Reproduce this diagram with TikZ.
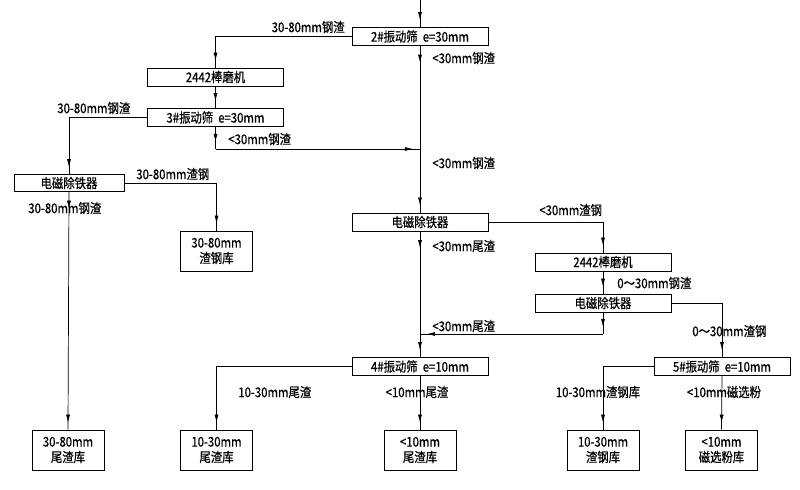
\documentclass[tikz,border=0pt]{standalone}
\usepackage{fontspec}
\setmainfont{Noto Sans CJK SC}[FakeStretch=0.85,FakeBold=0.6]
\usetikzlibrary{arrows.meta}
\usetikzlibrary{decorations.markings}

\begin{document}
\begin{tikzpicture}[x=0.025cm,y=-0.025cm,
  font=\fontsize{9.5}{11}\selectfont,
  >={Latex[length=2mm,width=1mm]},
  every path/.style={line width=.5pt},
  unit/.style={draw,inner sep=0pt,minimum width=3.4cm,minimum height=.45cm},
  sep/.style={draw,inner sep=0pt,minimum width=2.75cm,minimum height=.42cm},
  bin/.style={draw,inner sep=0pt,minimum width=1.8cm,minimum height=1cm,align=center},
  flow/.style={draw,postaction={decorate,decoration={markings,
    mark=at position -5pt with {\arrow{>}}}}},
  lead/.style={postaction={decorate,decoration={markings,
    mark=at position 12pt with {\arrow{>}}}}},
  lbl/.style={inner sep=0pt}]
  \useasboundingbox (0,0) rectangle (800,489);

  \node (s2) [unit] at (420,36.5) {2\#振动筛\ \ e=30mm};
  \node (rm1) [unit] at (215.5,77) {2442棒磨机};
  \node (s3) [unit] at (215.5,117.5) {3\#振动筛\ \ e=30mm};
  \node (me1) [sep] at (69,183) {电磁除铁器};
  \node (st1) [bin] at (216.5,251) {30-80mm\\渣钢库};
  \node (me2) [unit] at (420,222) {电磁除铁器};
  \node (rm2) [unit] at (603,262) {2442棒磨机};
  \node (me3) [unit] at (603,303) {电磁除铁器};
  \node (s4) [unit] at (420,366.5) {4\#振动筛\ \ e=10mm};
  \node (s5) [unit] at (722,366.5) {5\#振动筛\ \ e=10mm};
  \node (b1) [bin] at (68,450) {30-80mm\\尾渣库};
  \node (b2) [bin] at (216.5,450) {10-30mm\\尾渣库};
  \node (b3) [bin] at (420,450) {<10mm\\尾渣库};
  \node (b4) [bin] at (603,450) {10-30mm\\渣钢库};
  \node (b5) [bin] at (721.5,450) {<10mm\\磁选粉库};

  \coordinate (in) at (420,0);
  \coordinate (j1) at (215.5,149);
  \coordinate (j2) at (603,334);

  \draw[flow] (in) -- (s2.north);
  \draw[flow,lead] (s2.south) -- (me2.north);
  \draw[flow] (s2.west) -| (rm1.north);
  \draw[flow] (rm1.south) -- (s3.north);
  \draw[flow] (s3.south) -- (j1);
  \draw[flow] (j1) -- (j1 -| s2.south);
  \draw[flow] (s3.west) -| (me1.north);
  \draw[flow] (me1.east) -| (st1.north);
  \draw[flow,lead] (me1.south) -- (b1.north);
  \draw[flow,lead] (me2.south) -- (s4.north);
  \draw[flow] (me2.east) -| (rm2.north);
  \draw[flow] (rm2.south) -- (me3.north);
  \draw[flow] (me3.south) -- (j2);
  \draw[flow] (j2) -- (j2 -| s4.north);
  \draw[flow] (me3.east) -| (s5.north);
  \draw[flow] (s4.west) -| (b2.north);
  \draw[flow] (s4.south) -- (b3.north);
  \draw[flow] (s5.west) -| (b4.north);
  \draw[flow] (s5.south) -- (b5.north);

  \node (l1) [lbl,anchor=east] at (345,27) {30-80mm钢渣};
  \node (l2) [lbl,anchor=west] at (432,58) {<30mm钢渣};
  \node (l3) [lbl,anchor=west] at (57,108) {30-80mm钢渣};
  \node (l4) [lbl,anchor=west] at (228,139) {<30mm钢渣};
  \node (l5) [lbl,anchor=west] at (432,163) {<30mm钢渣};
  \node (l6) [lbl,anchor=west] at (136,174) {30-80mm渣钢};
  \node (l7) [lbl,anchor=west] at (28,208) {30-80mm钢渣};
  \node (l8) [lbl,anchor=west] at (539,210) {<30mm渣钢};
  \node (l9) [lbl,anchor=west] at (432,246) {<30mm尾渣};
  \node (l10) [lbl,anchor=west] at (617,283) {0～30mm钢渣};
  \node (l11) [lbl,anchor=west] at (432,326) {<30mm尾渣};
  \node (l12) [lbl,anchor=west] at (692,331) {0～30mm渣钢};
  \node (l13) [lbl,anchor=west] at (238,392) {10-30mm尾渣};
  \node (l14) [lbl] at (417,392) {<10mm尾渣};
  \node (l15) [lbl] at (598,392) {10-30mm渣钢库};
  \node (l16) [lbl] at (724,392) {<10mm磁选粉};
\end{tikzpicture}
\end{document}
